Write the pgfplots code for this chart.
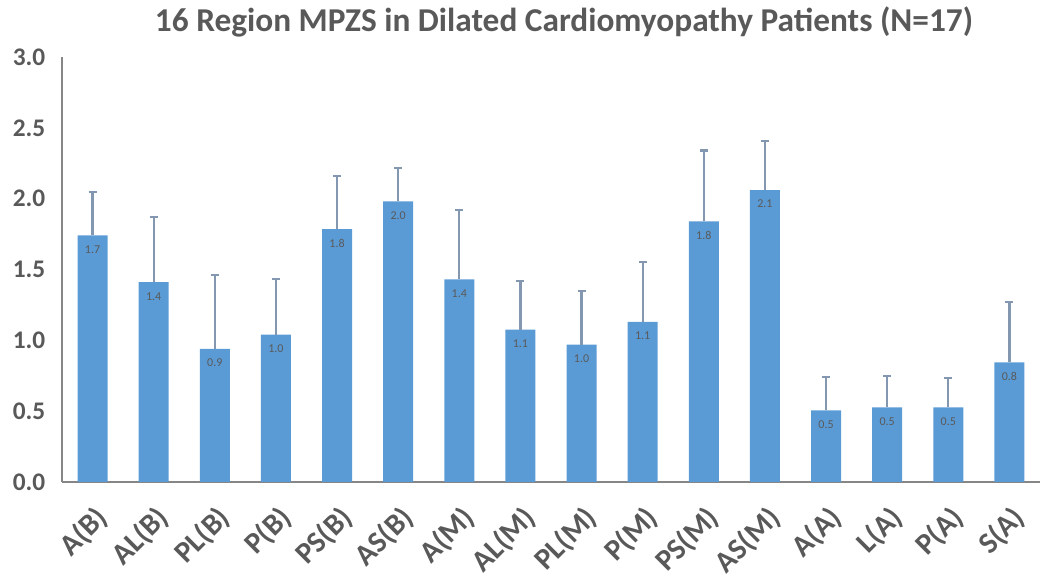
\documentclass[border=0pt]{standalone}
\usepackage{pgfplots}
\pgfplotsset{compat=1.18}
\usepackage{pgfplotstable}
\usepackage{fontspec}
\setmainfont{Carlito}

\definecolor{barblue}{HTML}{5B9BD5}
\definecolor{errgray}{HTML}{8497B0}
\definecolor{txtgray}{HTML}{595959}
\definecolor{axgray}{HTML}{868686}

\pgfplotstableread{
x  y      err    lab
0  1.74   0.31   1.7
1  1.41   0.46   1.4
2  0.94   0.52   0.9
3  1.04   0.39   1.0
4  1.785  0.375  1.8
5  1.98   0.235  2.0
6  1.43   0.49   1.4
7  1.075  0.345  1.1
8  0.97   0.38   1.0
9  1.13   0.425  1.1
10 1.84   0.50   1.8
11 2.06   0.35   2.1
12 0.506  0.237  0.5
13 0.527  0.219  0.5
14 0.527  0.209  0.5
15 0.845  0.423  0.8
}\mpzs

\begin{document}
\begin{tikzpicture}
\useasboundingbox (0,0) rectangle (787.5pt,431.25pt);
\node[font=\fontsize{25}{30}\selectfont\bfseries, text=txtgray] at (423pt,415pt)
  {16 Region MPZS in Dilated Cardiomyopathy Patients (N=17)};
\begin{axis}[
  at={(46.5pt,69.75pt)}, anchor=south west,
  scale only axis,
  width=733.5pt, height=318.75pt,
  ymin=0, ymax=3,
  xmin=-0.5, xmax=15.5,
  ytick={0,0.5,...,3.0},
  yticklabel style={font=\fontsize{19}{22}\selectfont\bfseries, text=txtgray,
    /pgf/number format/fixed, /pgf/number format/fixed zerofill,
    /pgf/number format/precision=1, xshift=-9pt},
  /pgf/number format/assume math mode=true,
  xtick=data,
  xticklabels={A(B),AL(B),PL(B),P(B),PS(B),AS(B),A(M),AL(M),PL(M),P(M),PS(M),AS(M),A(A),L(A),P(A),S(A)},
  xticklabel style={font=\fontsize{22.5}{25}\selectfont\bfseries, text=txtgray,
    rotate=45, anchor=north east, inner sep=0pt, xshift=-10.8pt, yshift=-11.8pt},
  major tick length=0pt,
  axis x line*=bottom, axis y line*=left,
  axis line style={axgray, line width=0.9pt},
  clip=false,
]
\addplot[ybar, bar width=22.5pt, fill=barblue, draw=none,
  error bars/.cd, y dir=plus, y explicit,
  error bar style={errgray, line width=1.6pt},
  error mark options={errgray, line width=1.6pt, mark size=3pt, rotate=90}]
  table[x=x, y=y, y error=err] {\mpzs};
\addplot[only marks, mark=none,
  nodes near coords, point meta=explicit symbolic,
  nodes near coords style={anchor=north, yshift=-4pt,
    font=\fontsize{9}{10}\selectfont, text=txtgray}]
  table[x=x, y=y, meta=lab] {\mpzs};
\end{axis}
\end{tikzpicture}
\end{document}
